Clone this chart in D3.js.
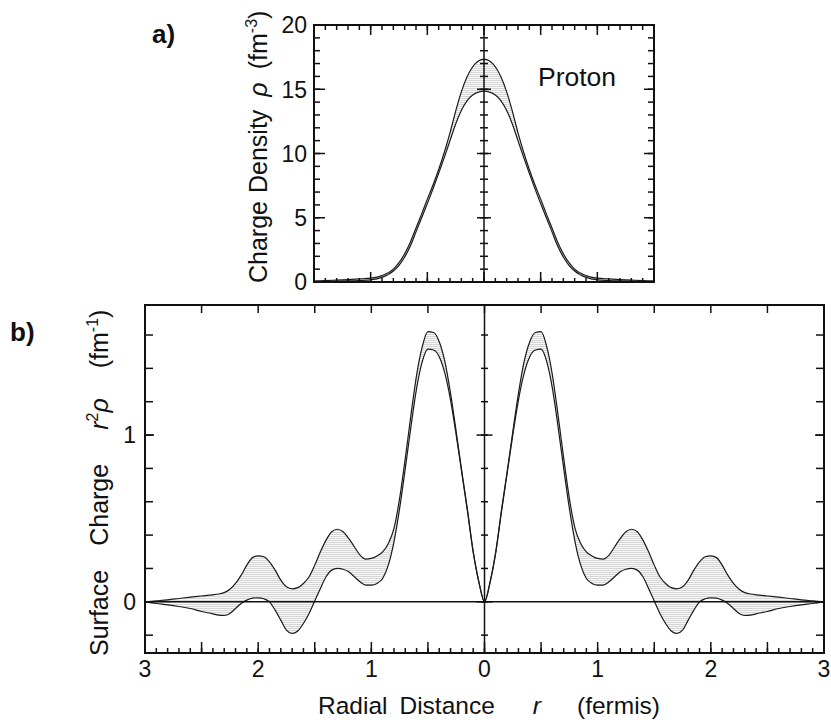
<!DOCTYPE html>
<html>
<head>
<meta charset="utf-8">
<script src="https://cdn.jsdelivr.net/npm/d3@7"></script>
<style>
  html, body { margin: 0; padding: 0; background: #fff; }
  text { font-family: "Liberation Sans", Arial, Helvetica, sans-serif; fill: #111; white-space: pre; }
</style>
</head>
<body>
<svg id="chart" width="831" height="723"></svg>
<script>
// ---------- DATA ----------
// Panel a) charge density rho (fm^-3) vs r (fm), r >= 0 (mirrored for r < 0)
const rhoR      = [0, 0.05, 0.1, 0.15, 0.2, 0.25, 0.3, 0.35, 0.4, 0.45, 0.5, 0.55, 0.6, 0.65, 0.7, 0.75, 0.8, 0.9, 1.0, 1.1, 1.2, 1.3, 1.4, 1.5];
const rhoUpper  = [17.35, 17.2, 16.75, 15.95, 14.8, 13.3, 11.6, 10.1, 8.75, 7.55, 6.45, 5.3, 4.2, 3.1, 2.2, 1.5, 1.0, 0.5, 0.3, 0.24, 0.19, 0.15, 0.11, 0.08];
const rhoLower  = [14.85, 14.78, 14.55, 14.1, 13.35, 12.3, 11.0, 9.7, 8.45, 7.25, 6.1, 5.0, 3.9, 2.8, 1.95, 1.3, 0.85, 0.36, 0.16, 0.11, 0.08, 0.06, 0.04, 0.02];

// Panel b) surface charge r^2 rho (fm^-1) vs r (fm), r >= 0 (mirrored for r < 0)
const surfR     = [0, 0.05, 0.1, 0.15, 0.2, 0.25, 0.3, 0.35, 0.4, 0.45, 0.5, 0.55, 0.6, 0.65, 0.7, 0.75, 0.8, 0.85, 0.9, 0.95,
                   1.0, 1.05, 1.1, 1.15, 1.2, 1.25, 1.3, 1.35, 1.4, 1.45, 1.5, 1.55, 1.6, 1.65, 1.7, 1.75, 1.8, 1.85, 1.9, 1.95,
                   2.0, 2.05, 2.1, 2.15, 2.2, 2.25, 2.3, 2.35, 2.4, 2.5, 2.6, 2.7, 2.8, 2.9, 3.0];
const surfUpper = [0, 0.12, 0.30, 0.55, 0.78, 1.02, 1.25, 1.44, 1.56, 1.615, 1.62, 1.53, 1.36, 1.12, 0.86, 0.62, 0.44, 0.35, 0.30, 0.275,
                   0.26, 0.256, 0.28, 0.33, 0.38, 0.42, 0.435, 0.42, 0.37, 0.30, 0.22, 0.15, 0.11, 0.085, 0.078, 0.09, 0.13, 0.19, 0.24, 0.27,
                   0.275, 0.265, 0.22, 0.16, 0.11, 0.075, 0.055, 0.047, 0.042, 0.035, 0.028, 0.02, 0.012, 0.006, 0.0];
const surfLower = [0, 0.12, 0.30, 0.54, 0.77, 1.0, 1.21, 1.37, 1.47, 1.51, 1.515, 1.44, 1.28, 1.05, 0.80, 0.56, 0.36, 0.22, 0.14, 0.11,
                   0.10, 0.10, 0.12, 0.15, 0.18, 0.195, 0.20, 0.19, 0.15, 0.08, 0.005, -0.07, -0.13, -0.175, -0.19, -0.17, -0.11, -0.05, 0.0, 0.018,
                   0.024, 0.022, 0.01, -0.01, -0.04, -0.07, -0.082, -0.08, -0.072, -0.058, -0.04, -0.028, -0.018, -0.01, 0.0];

// Tick values / labels
const rhoYMajor   = [0, 5, 10, 15, 20];
const rhoYMinor   = d3.range(0, 21, 1);
const rhoXMajor   = [-1.5, -1, -0.5, 0, 0.5, 1, 1.5];
const rhoXMinor   = d3.range(-15, 16, 1).map(d => d / 10);
const surfYMajor  = [0, 1];
const surfYMinor  = [-0.2, 0, 0.2, 0.4, 0.6, 0.8, 1.0, 1.2, 1.4, 1.6];
const surfXLabels = [-3, -2, -1, 0, 1, 2, 3];
const surfXHalf   = d3.range(-6, 7, 1).map(d => d / 2);
const surfXMinor  = d3.range(-30, 31, 1).map(d => d / 10);

// ---------- LAYOUT ----------
const svg = d3.select("#chart");
const A = { x0: 314, x1: 654, y0: 25, y1: 282 };
const B = { x0: 145, x1: 824, y0: 305, y1: 653 };

const xA = d3.scaleLinear([-1.5, 1.5], [A.x0, A.x1]);
const yA = d3.scaleLinear([0, 20], [A.y1, A.y0]);
const xB = d3.scaleLinear([-3, 3], [B.x0, B.x1]);
const yB = d3.scaleLinear([-0.307, 1.78], [B.y1, B.y0]);

function mirrored(rs, up, lo) {
  const pts = [];
  for (let i = rs.length - 1; i > 0; i--) pts.push({ r: -rs[i], u: up[i], l: lo[i] });
  for (let i = 0; i < rs.length; i++) pts.push({ r: rs[i], u: up[i], l: lo[i] });
  return pts;
}

// pattern fill
const defs = svg.append("defs");
const pat = defs.append("pattern").attr("id", "dots").attr("patternUnits", "userSpaceOnUse")
  .attr("width", 2).attr("height", 2);
pat.append("rect").attr("width", 2).attr("height", 2).attr("fill", "#f7f7f7");
pat.append("rect").attr("width", 2).attr("height", 1).attr("fill", "#d6d6d6");

function drawBand(g, data, x, y) {
  const area = d3.area().curve(d3.curveMonotoneX)
    .x(d => x(d.r)).y0(d => y(d.l)).y1(d => y(d.u));
  g.append("path").datum(data).attr("d", area).attr("fill", "url(#dots)").attr("stroke", "none");
  const lu = d3.line().curve(d3.curveMonotoneX).x(d => x(d.r)).y(d => y(d.u));
  const ll = d3.line().curve(d3.curveMonotoneX).x(d => x(d.r)).y(d => y(d.l));
  g.append("path").datum(data).attr("d", lu).attr("fill", "none").attr("stroke", "#1a1a1a").attr("stroke-width", 1.2);
  g.append("path").datum(data).attr("d", ll).attr("fill", "none").attr("stroke", "#1a1a1a").attr("stroke-width", 1.2);
}

function vTicks(g, vals, yScale, xPos, lenLeft, lenRight) {
  g.selectAll(null).data(vals).enter().append("line")
    .attr("x1", xPos - lenLeft).attr("x2", xPos + lenRight)
    .attr("y1", d => yScale(d)).attr("y2", d => yScale(d))
    .attr("stroke", "#111").attr("stroke-width", 1.5);
}
function hTicks(g, vals, xScale, yPos, lenUp, lenDown) {
  g.selectAll(null).data(vals).enter().append("line")
    .attr("y1", yPos - lenUp).attr("y2", yPos + lenDown)
    .attr("x1", d => xScale(d)).attr("x2", d => xScale(d))
    .attr("stroke", "#111").attr("stroke-width", 1.5);
}

// ---------- PANEL A ----------
const gA = svg.append("g");
drawBand(gA, mirrored(rhoR, rhoUpper, rhoLower), xA, yA);
gA.append("line").attr("x1", xA(0)).attr("x2", xA(0)).attr("y1", A.y0).attr("y2", A.y1)
  .attr("stroke", "#111").attr("stroke-width", 1.5);
vTicks(gA, rhoYMinor, yA, xA(0), 4, 4);
vTicks(gA, rhoYMajor, yA, xA(0), 7, 7);
vTicks(gA, rhoYMinor, yA, A.x0, 0, 6);
vTicks(gA, rhoYMajor, yA, A.x0, 0, 11);
vTicks(gA, rhoYMinor, yA, A.x1, 6, 0);
vTicks(gA, rhoYMajor, yA, A.x1, 10, 0);
hTicks(gA, rhoXMinor, xA, A.y0, 0, 5);
hTicks(gA, rhoXMajor, xA, A.y0, 0, 10);
hTicks(gA, rhoXMinor, xA, A.y1, 4, 0);
hTicks(gA, rhoXMajor, xA, A.y1, 10, 0);
gA.append("rect").attr("x", A.x0).attr("y", A.y0).attr("width", A.x1 - A.x0).attr("height", A.y1 - A.y0)
  .attr("fill", "none").attr("stroke", "#111").attr("stroke-width", 2);
gA.selectAll(null).data(rhoYMajor).enter().append("text")
  .attr("x", A.x0 - 7).attr("y", d => yA(d)).attr("dy", "0.36em")
  .attr("text-anchor", "end").attr("font-size", 23).text(d => d);
// y label (rotated)
const tA = gA.append("text").attr("transform", "translate(267,283) rotate(-90)")
  .attr("text-anchor", "start").attr("font-size", 25);
tA.append("tspan").text("Charge");
tA.append("tspan").attr("dx", 8).text("Density");
tA.append("tspan").attr("dx", 13).attr("font-style", "italic").text("ρ");
tA.append("tspan").attr("dx", 13).text("(fm");
tA.append("tspan").attr("font-size", 16).attr("dy", -10).text("-3");
tA.append("tspan").attr("dy", 10).text(")");
gA.append("text").attr("x", 538).attr("y", 86).attr("font-size", 26.5).text("Proton");
gA.append("text").attr("x", 152).attr("y", 43).attr("font-size", 26).attr("font-weight", "bold").text("a)");

// ---------- PANEL B ----------
const gB = svg.append("g");
drawBand(gB, mirrored(surfR, surfUpper, surfLower), xB, yB);
gB.append("line").attr("x1", B.x0).attr("x2", B.x1).attr("y1", yB(0)).attr("y2", yB(0))
  .attr("stroke", "#111").attr("stroke-width", 1.5);
gB.append("line").attr("x1", xB(0)).attr("x2", xB(0)).attr("y1", B.y0).attr("y2", B.y1)
  .attr("stroke", "#111").attr("stroke-width", 1.5);
vTicks(gB, surfYMinor, yB, xB(0), 3.5, 3.5);
vTicks(gB, surfYMajor, yB, xB(0), 8, 8);
vTicks(gB, surfYMinor, yB, B.x0, 0, 8);
vTicks(gB, surfYMajor, yB, B.x0, 0, 9);
vTicks(gB, surfYMinor, yB, B.x1, 8, 0);
vTicks(gB, surfYMajor, yB, B.x1, 9, 0);
hTicks(gB, surfXHalf, xB, B.y0, 0, 8);
hTicks(gB, surfXMinor, xB, B.y1, 5, 0);
hTicks(gB, surfXHalf, xB, B.y1, 11, 0);
gB.append("rect").attr("x", B.x0).attr("y", B.y0).attr("width", B.x1 - B.x0).attr("height", B.y1 - B.y0)
  .attr("fill", "none").attr("stroke", "#111").attr("stroke-width", 2);
gB.selectAll(null).data(surfYMajor).enter().append("text")
  .attr("x", B.x0 - 9).attr("y", d => yB(d)).attr("dy", "0.36em")
  .attr("text-anchor", "end").attr("font-size", 23).text(d => d);
gB.selectAll(null).data(surfXLabels).enter().append("text")
  .attr("x", d => xB(d)).attr("y", B.y1 + 24)
  .attr("text-anchor", "middle").attr("font-size", 23).text(d => Math.abs(d));
const tB = gB.append("text").attr("transform", "translate(108,656) rotate(-90)")
  .attr("text-anchor", "start").attr("font-size", 25);
tB.append("tspan").text("Surface");
tB.append("tspan").attr("dx", 24).text("Charge");
tB.append("tspan").attr("dx", 34).attr("font-style", "italic").text("r");
tB.append("tspan").attr("font-size", 16).attr("dy", -10).text("2");
tB.append("tspan").attr("font-style", "italic").attr("dy", 10).text("ρ");
tB.append("tspan").attr("dx", 30).text("(fm");
tB.append("tspan").attr("font-size", 16).attr("dy", -10).text("-1");
tB.append("tspan").attr("dy", 10).text(")");
const tX = gB.append("text").attr("x", 318).attr("y", 714).attr("font-size", 24.5);
tX.append("tspan").text("Radial");
tX.append("tspan").attr("dx", 12).text("Distance");
tX.append("tspan").attr("dx", 38).attr("font-style", "italic").text("r");
tX.append("tspan").attr("dx", 36).text("(fermis)");
gB.append("text").attr("x", 10).attr("y", 341).attr("font-size", 26).attr("font-weight", "bold").text("b)");
</script>
</body>
</html>
